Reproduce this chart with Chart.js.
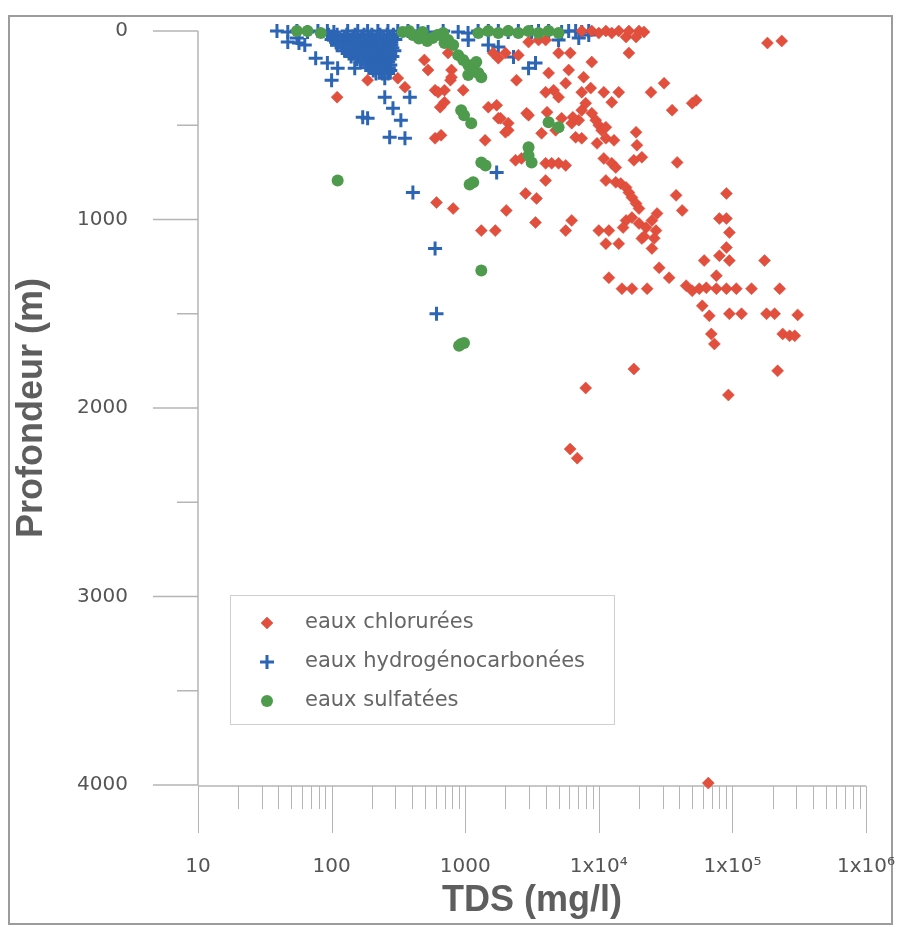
<!DOCTYPE html>
<html>
<head>
<meta charset="utf-8">
<script src="https://cdn.jsdelivr.net/npm/chart.js@4.4.1/dist/chart.umd.min.js"></script>
<style>
  html, body { margin: 0; padding: 0; background: #fff; }
  #wrap { width: 899px; height: 927px; position: relative; }
</style>
</head>
<body>
<div id="wrap"><canvas id="tdsChart"></canvas></div>
<script>
// eaux chlorurées (TDS mg/l, profondeur m)
const chloTds = [
  7450, 8860, 10000, 11300, 12500, 14100, 16000, 16800, 19000, 20000, 21800, 183000, 234000,
  16800, 8860, 5000, 6120, 2980, 3540, 4000, 1770, 2000, 1620, 2500, 2420, 4210, 4590, 4000,
  5000, 5650, 5950, 7700, 7450, 8700, 10900, 12500, 14100, 24600, 30800, 35400, 53600, 50000,
  966, 790, 775, 700, 745, 595, 650, 595, 610, 110, 186, 313, 354, 495, 527, 627, 790,
  1490, 1720, 1770, 2100, 2000, 2880, 3730, 4100, 5270, 6270, 7080, 7450, 7980, 8860, 9490,
  10000, 10500, 11300, 6710, 7450, 9700, 11300, 13000, 19000, 19300, 18300, 21000, 38600,
  10900, 12500, 13400, 11300, 13400, 14600, 16000, 16800, 17700, 19000, 20000, 2380, 2640,
  4000, 4440, 5000, 5650, 4000, 2830, 3420, 37900, 42100, 90200, 813, 2030, 3360, 6270, 5650,
  1320, 1680, 10000, 11900, 11300, 14100, 16000, 17700, 20000, 22600, 25000, 27300, 26800,
  21000, 25000, 79900, 90200, 94900, 90200, 79900, 94900, 61500, 174000, 75900, 11900, 28300,
  33600, 14900, 17700, 23000, 45100, 50000, 56500, 63800, 75900, 90200, 107000, 139000, 226000,
  59500, 67200, 94900, 117000, 180000, 207000, 308000, 69500, 73300, 238000, 268000, 293000,
  18300, 7980, 218000, 93300, 6100, 6900, 66000, 1410, 1840, 2100, 2980, 4750, 6400, 660, 700,
  15200, 21800, 26000
];
const chloDepth = [
  0, 0, 11, 0, 11, 0, 32, 0, 32, 0, 5, 64, 53,
  117, 165, 117, 117, 59, 48, 48, 144, 117, 117, 128, 261, 223, 314, 325,
  351, 277, 207, 245, 325, 303, 325, 378, 325, 325, 277, 420, 367, 383,
  314, 207, 261, 314, 117, 314, 404, 569, 910, 351, 261, 250, 298, 154, 207, 325, 245,
  404, 394, 463, 489, 537, 436, 543, 431, 463, 489, 473, 420, 383, 436, 473,
  500, 527, 511, 564, 569, 596, 569, 580, 537, 606, 686, 670, 697,
  676, 702, 724, 793, 803, 809, 830, 857, 883, 915, 942, 686, 676,
  702, 702, 702, 713, 793, 862, 888, 872, 952, 862, 942, 952, 1016, 1005, 1059,
  1059, 1059, 1059, 1059, 1128, 1128, 1005, 990, 1021, 1043, 1005, 968, 1059,
  1101, 1154, 995, 995, 1069, 1149, 1192, 1218, 1218, 1218, 1298, 1309, 1256,
  1309, 1367, 1367, 1367, 1351, 1378, 1367, 1362, 1367, 1367, 1367, 1367, 1367,
  1458, 1511, 1500, 1500, 1500, 1500, 1506, 1607, 1660, 1607, 1617, 1617,
  1793, 1894, 1803, 1931, 2218, 2266, 3990, 580, 463, 527, 447, 527, 458, 553, 378,
  1043, 1090, 1100
];

// eaux hydrogénocarbonées
const hydroTds = [
  39, 47, 55, 66, 79, 93, 104, 132, 157, 186, 222, 264, 313, 373, 443, 527, 684, 886, 1050,
  1250, 1490, 1770, 2100, 2500, 3140, 3540, 4210, 5270, 5950, 6710, 7450, 8410,
  95, 110, 130, 150, 175, 200, 230, 260, 290,
  105, 125, 145, 168, 192, 218, 245, 275,
  100, 118, 138, 160, 185, 210, 240, 270, 300,
  108, 128, 148, 170, 195, 222, 250, 280,
  110, 128, 150, 172, 195, 222, 250, 280,
  120, 140, 160, 182, 205, 230, 258, 285,
  125, 145, 165, 188, 212, 240, 268, 295,
  135, 155, 175, 198, 222, 248, 275,
  140, 160, 182, 205, 230, 258, 285,
  155, 175, 198, 222, 248, 272,
  165, 188, 212, 238, 265,
  180, 202, 226, 252, 275,
  190, 215, 240, 268,
  205, 228, 252, 275,
  215, 240, 265, 250,
  47, 57, 55, 63, 76, 93, 111, 100, 149, 171, 186, 250, 288, 330, 272, 354, 406, 595, 610,
  1720, 2980, 3360, 385, 1490, 1770, 2300, 1054, 7080, 8410, 5000
];
const hydroDepth = [
  0, 5, 0, 5, 0, 0, 5, 0, 0, 0, 0, 0, 0, 0, 0, 5, 0, 5, 10,
  0, 0, 0, 5, 0, 5, 0, 0, 5, 0, 0, 5, 0,
  20, 20, 20, 20, 20, 20, 20, 20, 20,
  32, 32, 32, 32, 32, 32, 32, 32,
  45, 45, 45, 45, 45, 45, 45, 45, 45,
  60, 60, 60, 60, 60, 60, 60, 60,
  75, 75, 75, 75, 75, 75, 75, 75,
  90, 90, 90, 90, 90, 90, 90, 90,
  105, 105, 105, 105, 105, 105, 105, 105,
  120, 120, 120, 120, 120, 120, 120,
  135, 135, 135, 135, 135, 135, 135,
  150, 150, 150, 150, 150, 150,
  165, 165, 165, 165, 165,
  180, 180, 180, 180, 180,
  195, 195, 195, 195,
  210, 210, 210, 210,
  225, 225, 225, 250,
  59, 64, 37, 74, 144, 170, 197, 261, 197, 458, 463, 351, 410, 473, 564, 569, 857, 1154, 1500,
  750, 197, 170, 351, 74, 85, 138, 48, 37, 21, 48
];

// eaux sulfatées
const sulfTds = [
  55, 66, 83, 340, 380, 406, 480, 570, 620, 684, 700, 1253, 1490, 1770, 2100, 2500, 2980, 3540,
  4210, 5000, 745, 450, 520, 886, 966, 1054, 1148, 1253, 1320, 1054, 1210, 813, 933, 980, 1110,
  1320, 1420, 1148, 1080, 1320, 2980, 3140, 2980, 4210, 5000, 111, 933, 980, 900
];
const sulfDepth = [
  0, 0, 11, 5, 0, 21, 5, 37, 21, 11, 64, 11, 0, 11, 0, 11, 0, 11,
  0, 11, 48, 40, 53, 128, 154, 181, 207, 223, 245, 234, 165, 74, 420, 447, 489,
  697, 713, 803, 814, 1271, 617, 697, 660, 484, 511, 793, 1660, 1655, 1670
];

const seriesLabels = ['eaux chlorurées', 'eaux hydrogénocarbonées', 'eaux sulfatées'];
const xTickValues = [10, 100, 1000, 10000, 100000, 1000000];
const xTickLabels = ['10', '100', '1000', '1x10⁴', '1x10⁵', '1x10⁶'];
const yMajorTicks = [0, 1000, 2000, 3000, 4000];
const yMinorTicks = [500, 1500, 2500, 3500];

function pairs(xs, ys) {
  return xs.map((v, i) => ({ x: v, y: ys[i] }));
}

const RED = '#e2503d';
const BLUE = '#2d65b5';
const GREEN = '#4e9b4e';
const AXIS = '#b5b5b5';

// frame, axis lines and tick marks (placed through the chart's scales)
const axesPlugin = {
  id: 'axesPlugin',
  beforeDraw(chart) {
    const ctx = chart.ctx;
    ctx.save();
    ctx.fillStyle = '#fff';
    ctx.fillRect(0, 0, chart.width, chart.height);
    ctx.strokeStyle = '#9c9c9c';
    ctx.lineWidth = 2;
    ctx.strokeRect(9, 16, 883, 908);
    ctx.restore();
  },
  beforeDatasetsDraw(chart) {
    const { ctx, chartArea, scales } = chart;
    const x = scales.x, y = scales.y;
    const left = chartArea.left, bottom = chartArea.bottom;
    ctx.save();
    ctx.strokeStyle = AXIS;
    ctx.lineWidth = 1.5;
    ctx.beginPath();
    ctx.moveTo(left, y.getPixelForValue(0));
    ctx.lineTo(left, y.getPixelForValue(4000));
    yMajorTicks.forEach(v => {
      const py = y.getPixelForValue(v);
      ctx.moveTo(left - 45, py); ctx.lineTo(left, py);
    });
    yMinorTicks.forEach(v => {
      const py = y.getPixelForValue(v);
      ctx.moveTo(left - 21, py); ctx.lineTo(left, py);
    });
    ctx.moveTo(left, bottom + 1);
    ctx.lineTo(x.getPixelForValue(1e6), bottom + 1);
    ctx.stroke();

    ctx.lineWidth = 1;
    ctx.beginPath();
    for (let d = 1; d <= 5; d++) {
      for (let k = 1; k <= 9; k++) {
        const px = Math.round(x.getPixelForValue(k * Math.pow(10, d))) + 0.5;
        ctx.moveTo(px, bottom + 1);
        ctx.lineTo(px, bottom + (k === 1 ? 48 : 24));
      }
    }
    const pEnd = Math.round(x.getPixelForValue(1e6)) + 0.5;
    ctx.moveTo(pEnd, bottom + 1);
    ctx.lineTo(pEnd, bottom + 48);
    ctx.stroke();
    ctx.restore();
  },
  afterDraw(chart) {
    // legend box inside the plot
    const ctx = chart.ctx;
    const bx = 230, by = 595, bw = 384, bh = 129;
    ctx.save();
    ctx.fillStyle = '#fff';
    ctx.fillRect(bx, by, bw, bh);
    ctx.strokeStyle = '#cfcfcf';
    ctx.lineWidth = 1;
    ctx.strokeRect(bx + 0.5, by + 0.5, bw, bh);
    ctx.font = '21px "DejaVu Sans"';
    ctx.textBaseline = 'middle';
    const rows = [623, 662, 701];
    chart.data.datasets.forEach((ds, i) => {
      ctx.fillStyle = ds.pointBackgroundColor;
      ctx.strokeStyle = ds.pointBorderColor;
      ctx.lineWidth = ds.pointBorderWidth;
      Chart.helpers.drawPoint(ctx, {
        pointStyle: ds.pointStyle, radius: ds.pointRadius, rotation: 0,
        borderWidth: ds.pointBorderWidth
      }, 267, rows[i]);
      ctx.fillStyle = '#666';
      ctx.fillText(ds.label, 305, rows[i]);
    });
    ctx.restore();
  }
};

const ctx = document.getElementById('tdsChart').getContext('2d');
const tdsChart = new Chart(ctx, {
  type: 'scatter',
  data: {
    datasets: [
      {
        label: seriesLabels[0],
        data: pairs(chloTds, chloDepth),
        pointStyle: 'rectRot',
        pointRadius: 6,
        pointBackgroundColor: RED,
        pointBorderColor: '#d4483a',
        pointBorderWidth: 0.5,
        order: 1
      },
      {
        label: seriesLabels[1],
        data: pairs(hydroTds, hydroDepth),
        pointStyle: 'cross',
        pointRadius: 7,
        pointBackgroundColor: BLUE,
        pointBorderColor: BLUE,
        pointBorderWidth: 3,
        order: 2
      },
      {
        label: seriesLabels[2],
        data: pairs(sulfTds, sulfDepth),
        pointStyle: 'circle',
        pointRadius: 6,
        pointBackgroundColor: GREEN,
        pointBorderColor: GREEN,
        pointBorderWidth: 0,
        order: 0
      }
    ]
  },
  options: {
    responsive: true,
    maintainAspectRatio: false,
    animation: false,
    clip: false,
    layout: { padding: { left: 8, top: 31, right: 33, bottom: 0 }, autoPadding: false },
    plugins: {
      legend: { display: false },
      tooltip: { enabled: false }
    },
    scales: {
      x: {
        type: 'logarithmic',
        min: 10,
        max: 1000000,
        grid: { display: false, drawTicks: false },
        border: { display: false },
        afterBuildTicks: (scale) => { scale.ticks = xTickValues.map(v => ({ value: v })); },
        afterFit: (scale) => {
          scale.height = 142;
          scale.paddingLeft = 0;
          scale.paddingRight = 0;
        },
        ticks: {
          autoSkip: false,
          maxRotation: 0,
          padding: 70,
          color: '#555',
          font: { family: 'DejaVu Sans', size: 20 },
          callback: (value) => {
            const i = xTickValues.indexOf(value);
            return i >= 0 ? xTickLabels[i] : '';
          }
        },
        title: {
          display: true,
          text: 'TDS (mg/l)',
          color: '#5e5e5e',
          font: { family: '"Liberation Sans", Arial', size: 36, weight: 'bold' },
          padding: { top: 0, bottom: 4 }
        }
      },
      y: {
        type: 'linear',
        reverse: true,
        min: 0,
        max: 4000,
        grid: { display: false, drawTicks: false },
        border: { display: false },
        afterBuildTicks: (scale) => { scale.ticks = yMajorTicks.map(v => ({ value: v })); },
        afterFit: (scale) => {
          scale.width = 190;
          scale.paddingTop = 0;
          scale.paddingBottom = 0;
        },
        ticks: {
          padding: 70,
          color: '#555',
          font: { family: 'DejaVu Sans', size: 20 },
          callback: (value) => String(value)
        },
        title: {
          display: true,
          text: 'Profondeur (m)',
          color: '#5e5e5e',
          font: { family: '"Liberation Sans", Arial', size: 36, weight: 'bold' },
          padding: { top: 2, bottom: 0 }
        }
      }
    }
  },
  plugins: [axesPlugin]
});
</script>
</body>
</html>
